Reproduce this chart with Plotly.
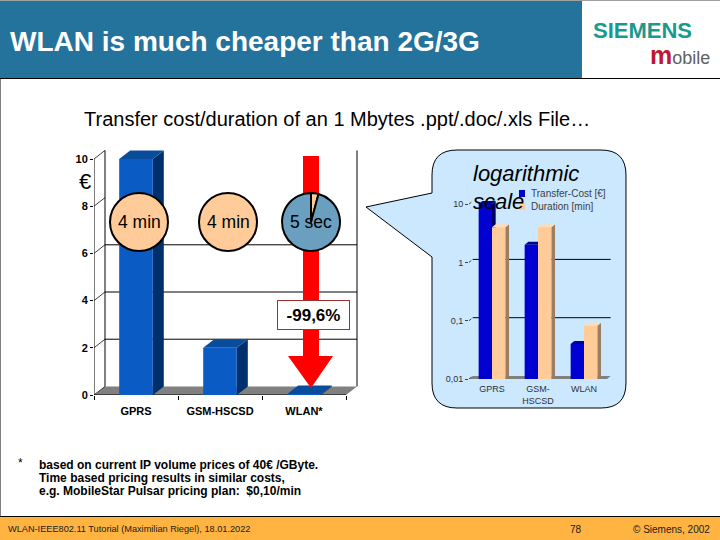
import plotly.graph_objects as go

# values
categories = ["GPRS", "GSM-HSCSD", "WLAN*"]
cost_eur = [10, 2, 0.04]
cost_ticks = [0, 2, 4, 6, 8, 10]
wall_lines = [2, 4, 6]

log_categories = ["GPRS", "GSM-<br>HSCSD", "WLAN"]
log_cost = [10, 2, 0.04]
log_duration = [4, 4, 0.082]
log_ticks = [0.01, 0.1, 1, 10]
log_tick_text = ["0,01", "0,1", "1", "10"]
log_wall_lines = [0.1, 1]

bubble_labels = ["4 min", "4 min", "5 sec"]
bubble_split = [[100], [100], [4.2, 95.8]]

W, H = 720, 540
FONT = "Liberation Sans"
BAR_BLUE, BAR_SIDE, BAR_TOP = "#0a5cc4", "#00306b", "#0a4c9c"
LOG_BLUE, LOG_SIDE, LOG_TOP = "#0000d0", "#00006b", "#000090"
PEACH, PEACH_SIDE, PEACH_TOP = "#ffcc99", "#9c7f62", "#ffdcb8"
STEEL = "#6b9fc0"
CALLOUT = "#cce8ff"


def px(x):
    return x / W


def py(y):
    return 1 - y / H


def paper_rect(x0, y0, x1, y1, color, layer="below"):
    return dict(type="rect", xref="paper", yref="paper", x0=px(x0), x1=px(x1), y0=py(y0), y1=py(y1),
                fillcolor=color, line_width=0, layer=layer)


def poly(points, fill, xref, yref):
    path = "M" + " L".join(f"{x},{y}" for x, y in points) + " Z"
    return dict(type="path", path=path, xref=xref, yref=yref, fillcolor=fill, line_width=0, layer="between")


def seg(x0, y0, x1, y1, xref, yref, color="black", width=1, dash="solid"):
    return dict(type="line", x0=x0, y0=y0, x1=x1, y1=y1, xref=xref, yref=yref,
                line=dict(color=color, width=width, dash=dash), layer="between")


shapes = [
    paper_rect(0, 1, 582, 78, "#24739d"),
    paper_rect(0, 0, 720, 1, "#a0a0a0"),
    paper_rect(0, 78, 720, 79, "black"),
    paper_rect(0, 79, 1, 516, "#808080"),
    paper_rect(0, 517, 720, H, "#ffb340"),
    paper_rect(0, 516, 720, 517, "black"),
]

# callout behind the small chart
l, r, t, b, c = 432, 626, 150, 408, 25
points = [("M", l + c, t), ("L", r - c, t), ("Q", r, t, r, t + c), ("L", r, b - c), ("Q", r, b, r - c, b),
          ("L", l + c, b), ("Q", l, b, l, b - c), ("L", l, 257), ("L", 366, 207), ("L", l, 193),
          ("L", l, t + c), ("Q", l, t, l + c, t)]
path = ""
for p in points:
    coords = [px(v) if i % 2 == 0 else py(v) for i, v in enumerate(p[1:])]
    path += p[0] + " ".join(f"{v:.5f}" for v in coords) + " "
shapes.append(dict(type="path", path=path + "Z", xref="paper", yref="paper", fillcolor=CALLOUT,
                   line=dict(color="black", width=1), layer="below"))

# main chart, 3D box drawn in axis units
DX, DY = 0.131, 0.364
x_left, x_right = -0.5, 2.5
shapes.append(poly([(x_left, 0), (x_left + DX, DY), (x_right + DX, DY), (x_right, 0)], "#808080", "x", "y"))
for v in wall_lines:
    shapes.append(seg(x_left + DX, v + DY, x_right + DX, v + DY, "x", "y"))
for v in cost_ticks:
    shapes.append(seg(x_left, v, x_left + DX, v + DY, "x", "y", color="#404040"))
shapes.append(seg(x_left + DX, DY, x_left + DX, 10 + DY, "x", "y"))
shapes.append(seg(x_right + DX, DY, x_right + DX, 10 + DY, "x", "y"))
shapes.append(seg(x_left, 0, x_left, 10, "x", "y"))
shapes.append(seg(x_left, 0, x_right, 0, "x", "y"))
for i, v in enumerate(cost_eur):
    a, e = i - 0.2, i + 0.2
    shapes.append(poly([(e, 0), (e + DX, DY), (e + DX, v + DY), (e, v)], BAR_SIDE, "x", "y"))
    shapes.append(poly([(a, v), (a + DX, v + DY), (e + DX, v + DY), (e, v)], BAR_TOP, "x", "y"))

# small log chart
LX, LF = 0.08, 1.126
log_left, log_right = -0.5, 2.5
shapes.append(poly([(log_left, 0.01), (log_left + LX, 0.01 * LF), (log_right + LX, 0.01 * LF), (log_right, 0.01)],
                   "#808080", "x2", "y2"))
for v in log_wall_lines:
    shapes.append(seg(log_left + LX, v * LF, log_right + LX, v * LF, "x2", "y2"))
for v in log_ticks:
    shapes.append(seg(log_left, v, log_left + LX, v * LF, "x2", "y2", color="#404040", dash="dot"))
for i, (v, d) in enumerate(zip(log_cost, log_duration)):
    a, e = i - 0.29, i
    shapes.append(poly([(e, 0.01), (e + LX, 0.01 * LF), (e + LX, v * LF), (e, v)], LOG_SIDE, "x2", "y2"))
    shapes.append(poly([(a, v), (a + LX, v * LF), (e + LX, v * LF), (e, v)], LOG_TOP, "x2", "y2"))
    a, e = i, i + 0.29
    shapes.append(poly([(e, 0.01), (e + LX, 0.01 * LF), (e + LX, d * LF), (e, d)], PEACH_SIDE, "x2", "y2"))
    shapes.append(poly([(a, d), (a + LX, d * LF), (e + LX, d * LF), (e, d)], PEACH_TOP, "x2", "y2"))

# legend keys of the small chart
shapes.append(paper_rect(519, 190, 525, 197, LOG_BLUE, layer="above"))
shapes.append(paper_rect(519, 203, 525, 210, PEACH, layer="above"))

fig = go.Figure()
fig.add_trace(go.Bar(x=[0, 1, 2], y=cost_eur, width=0.4, marker=dict(color=BAR_BLUE, line_width=0),
                     xaxis="x", yaxis="y", showlegend=False))

# red arrow, in pixels of the slide converted to the axis
arrow_px = [(303, 156), (319, 156), (319, 356), (333, 356), (311, 388), (288, 356), (303, 356), (303, 156)]
fig.add_trace(go.Scatter(x=[(p[0] - 136) / 84 for p in arrow_px], y=[(395 - p[1]) / 23.6 for p in arrow_px],
                         mode="lines", fill="toself", fillcolor="#ff0000", line=dict(width=0, color="#ff0000"),
                         xaxis="x", yaxis="y", showlegend=False, hoverinfo="skip"))

fig.add_trace(go.Bar(x=[0, 1, 2], y=log_cost, width=0.29, offset=-0.29, name="Transfer-Cost [€]",
                     marker=dict(color=LOG_BLUE, line_width=0), xaxis="x2", yaxis="y2", showlegend=False))
fig.add_trace(go.Bar(x=[0, 1, 2], y=log_duration, width=0.29, offset=0, name="Duration [min]",
                     marker=dict(color=PEACH, line_width=0), xaxis="x2", yaxis="y2", showlegend=False))

# transfer time bubbles
centers = [139, 228, 311]
for cx, split in zip(centers, bubble_split):
    colors = [PEACH] if len(split) == 1 else [PEACH, STEEL]
    fig.add_trace(go.Pie(values=split, sort=False, direction="clockwise", rotation=0, textinfo="none",
                         marker=dict(colors=colors, line=dict(color="black", width=2)),
                         domain=dict(x=[px(cx - 29), px(cx + 29)], y=[py(251), py(193)]),
                         showlegend=False, hoverinfo="skip"))


def text(x, y, s, size, color="black", anchor="left", **kw):
    return dict(x=px(x), y=py(y), xref="paper", yref="paper", text=s, showarrow=False, xanchor=anchor,
                yanchor="middle", font=dict(family=FONT, size=size, color=color), align=anchor, **kw)


annotations = [
    text(8, 41, "<b>WLAN is much cheaper than 2G/3G</b>", 28, "white"),
    text(591, 31, "<b>SIEMENS</b>", 22, "#1a9a8e"),
    text(712, 55, "<span style='color:#c0182e;font-size:25px'><b>m</b></span>"
                  "<span style='color:#606060'>obile</span>", 18, "#606060", anchor="right"),
    text(82, 119, "Transfer cost/duration of an 1 Mbytes .ppt/.doc/.xls File…", 20),
    text(77, 181, "€", 22),
    text(471, 173, "<i>logarithmic</i>", 22),
    text(471, 201, "<i>scale</i>", 22),
    text(529, 193, "Transfer-Cost [€]", 10, "#404040"),
    text(529, 206, "Duration [min]", 10, "#404040"),
    text(16, 463, "*", 12),
    text(37, 465, "<b>based on current IP volume prices of 40€ /GByte.</b>", 12),
    text(37, 478, "<b>Time based pricing results in similar costs,</b>", 12),
    text(37, 491, "<b>e.g. MobileStar Pulsar pricing plan:  $0,10/min</b>", 12),
    text(6, 529, "WLAN-IEEE802.11 Tutorial (Maximilian Riegel), 18.01.2022", 9.2, "#202020"),
    text(576, 529, "78", 10, "#202020", anchor="center"),
    text(712, 529, "© Siemens, 2002", 10, "#202020", anchor="right"),
    text(313, 315, "<b>-99,6%</b>", 17, anchor="center", bgcolor="white", bordercolor="#993333", borderwidth=1,
         width=69, height=26),
]
for cx, label in zip(centers, bubble_labels):
    annotations.append(text(cx, 222, label, 17.5, anchor="center"))

fig.update_layout(
    width=W, height=H, margin=dict(l=0, r=0, t=0, b=0, autoexpand=False), autosize=False,
    paper_bgcolor="white", plot_bgcolor="rgba(0,0,0,0)", barmode="overlay",
    shapes=shapes, annotations=annotations, showlegend=False,
    xaxis=dict(domain=[px(94), px(358)], range=[-0.5, (358 - 136) / 84], anchor="y", showgrid=False, zeroline=False,
               automargin=False, tickmode="array", tickvals=[0, 1, 2], ticktext=categories, ticks="",
               ticklabelstandoff=8, tickfont=dict(family=FONT, size=11, color="black", weight=700),
               minor=dict(tickmode="array", tickvals=[-0.5, 0.5, 1.5, 2.5], ticks="outside", ticklen=4,
                          tickcolor="black", showgrid=False)),
    yaxis=dict(domain=[py(395), py(148)], range=[0, 247 / 23.6], anchor="x", showgrid=False, zeroline=False,
               automargin=False, tickmode="array", tickvals=cost_ticks, ticks="outside", ticklen=3,
               tickcolor="black", tickfont=dict(family=FONT, size=11, color="black", weight=700)),
    xaxis2=dict(domain=[px(469), px(612)], range=[-0.5, (612 - 492) / 46], anchor="y2", showgrid=False, zeroline=False,
                automargin=False, tickmode="array", tickvals=[0, 1, 2], ticktext=log_categories, ticks="",
                ticklabelstandoff=3, tickfont=dict(family=FONT, size=9, color="#303030")),
    yaxis2=dict(domain=[py(379), py(193)], type="log", range=[-2, -2 + 186 / 58.3], anchor="x2", showgrid=False,
                zeroline=False, automargin=False, tickmode="array", tickvals=log_ticks, ticktext=log_tick_text,
                ticks="outside", ticklen=3, tickcolor="#404040", tickfont=dict(family=FONT, size=9, color="#303030")),
)

fig.write_html("out.html", config={"displayModeBar": False},
               post_script="document.body.style.margin='0';")
